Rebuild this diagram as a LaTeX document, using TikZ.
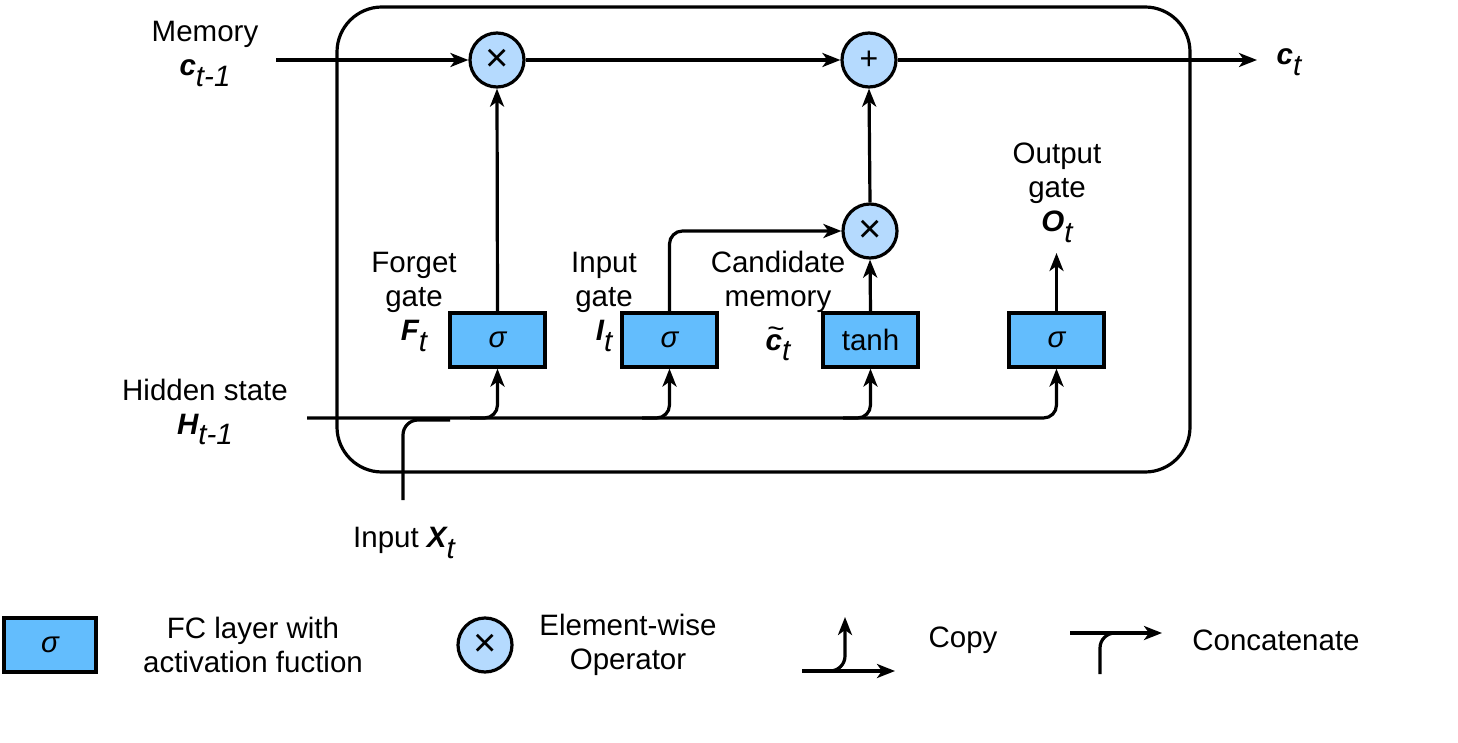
\documentclass[tikz,border=0pt]{standalone}
\usepackage{fontspec}
\setmainfont{Liberation Sans}
\usetikzlibrary{arrows.meta,calc}
\definecolor{boxblue}{HTML}{63BDFD}
\definecolor{opblue}{HTML}{B5DAFE}
\newcommand{\bsym}[2]{{\bfseries\itshape #1}\raisebox{-0.36em}{\itshape #2}}
\newcommand{\tildec}{\rlap{\raisebox{0.40em}{\hspace{0.06em}\textasciitilde}}{\bfseries\itshape c}}
\begin{document}
\begin{tikzpicture}[x=1pt,y=-1pt,
  line width=3.2pt,
  every node/.style={font=\fontsize{29.5}{34}\selectfont, inner sep=0pt},
  arr/.style={-{Stealth[length=18pt,width=14pt,inset=5pt]}},
  fc/.style={draw, fill=boxblue, minimum width=95pt, minimum height=54pt},
  op/.style={circle, draw, fill=opblue, minimum size=54pt},
  lbl/.style={align=center},
  opx/.style={font=\fontsize{40}{40}\selectfont},
  opp/.style={font=\fontsize{32}{32}\selectfont},
]
\useasboundingbox (0,0) rectangle (1458,743);

% cell frame
\node[draw, rounded corners=45pt, minimum width=853pt, minimum height=465pt] (cell) at (763.5,239.5) {};

% operators
\node[op, opx] (fx) at (497,60) {×};
\node[op, opp] (px) at (869,60) {+};
\node[op, opx] (mx) at (870,231) {×};

% FC layers
\node[fc] (fg) at (497.5,340) {\itshape σ};
\node[fc] (ig) at (669.5,340) {\itshape σ};
\node[fc] (cm) at (870.5,340) {tanh};
\node[fc] (og) at (1056.5,340) {\itshape σ};

% labels
\node[lbl] (memlbl) at (205,54) {Memory\\\bsym{c}{t-1}};
\node (ctlbl) at (1289,62) {\bsym{c}{t}};
\node[lbl] (hlbl) at (205,412) {Hidden state\\\bsym{H}{t-1}};
\node (xlbl) at (404,543) {Input \bsym{X}{t}};
\node[lbl] (flbl) at (414,302) {Forget\\gate\\\bsym{F}{t}};
\node[lbl] (ilbl) at (604,302) {Input\\gate\\\bsym{I}{t}};
\node[lbl] (clbl) at (778,306) {Candidate\\memory\\[10pt]\tildec\raisebox{-0.36em}{\itshape t}};
\node[lbl] (olbl) at (1057,193) {Output\\gate\\\bsym{O}{t}};

% memory path
\coordinate (memin) at (276,60);
\coordinate (ctout) at (1257,60);
\draw[arr] (memin) -- (fx);
\draw[arr] (fx) -- (px);
\draw[arr] (px) -- (ctout);

% gates
\draw[arr] (fg.north) -- (fx.south);
\draw[arr, rounded corners=13pt] (ig.north) |- (mx.west);
\draw[arr] (cm.north) -- (mx.south);
\draw[arr] (mx.north) -- (px.south);
\coordinate (otip) at (1056.5,253);
\draw[arr] (og.north) -- (otip);

% hidden state and input
\coordinate (hin) at (307,418);
\draw[arr, rounded corners=13pt] (hin) -| (og.south);
\coordinate (b1) at (470,418);
\coordinate (b2) at (642,418);
\coordinate (b3) at (843,418);
\draw[arr, rounded corners=13pt] (b1) -| (fg.south);
\draw[arr, rounded corners=13pt] (b2) -| (ig.south);
\draw[arr, rounded corners=13pt] (b3) -| (cm.south);
\coordinate (xin) at (403,500);
\coordinate (xj) at (450,420);
\draw[rounded corners=15pt] (xin) |- (xj);

% legend
\node[fc, minimum width=92pt] (lfc) at (50,645) {\itshape σ};
\node[lbl] (lfct) at (253,645) {FC layer with\\activation fuction};
\node[op, opx] (lop) at (485,645) {×};
\node[lbl] (lopt) at (628,645) {Element-wise\\Operator};

\coordinate (cpa) at (802,671);
\coordinate (cpb) at (895,671);
\coordinate (cpc) at (828,671);
\coordinate (cpd) at (845,617);
\draw[arr] (cpa) -- (cpb);
\draw[arr, rounded corners=15pt] (cpc) -| (cpd);
\node (cplbl) at (963,640) {Copy};

\coordinate (cca) at (1070,633);
\coordinate (ccb) at (1162,633);
\coordinate (ccc) at (1100,674);
\coordinate (ccd) at (1130,633);
\draw[arr] (cca) -- (ccb);
\draw[rounded corners=15pt] (ccc) |- (ccd);
\node (cclbl) at (1276,640) {Concatenate};
\end{tikzpicture}
\end{document}
